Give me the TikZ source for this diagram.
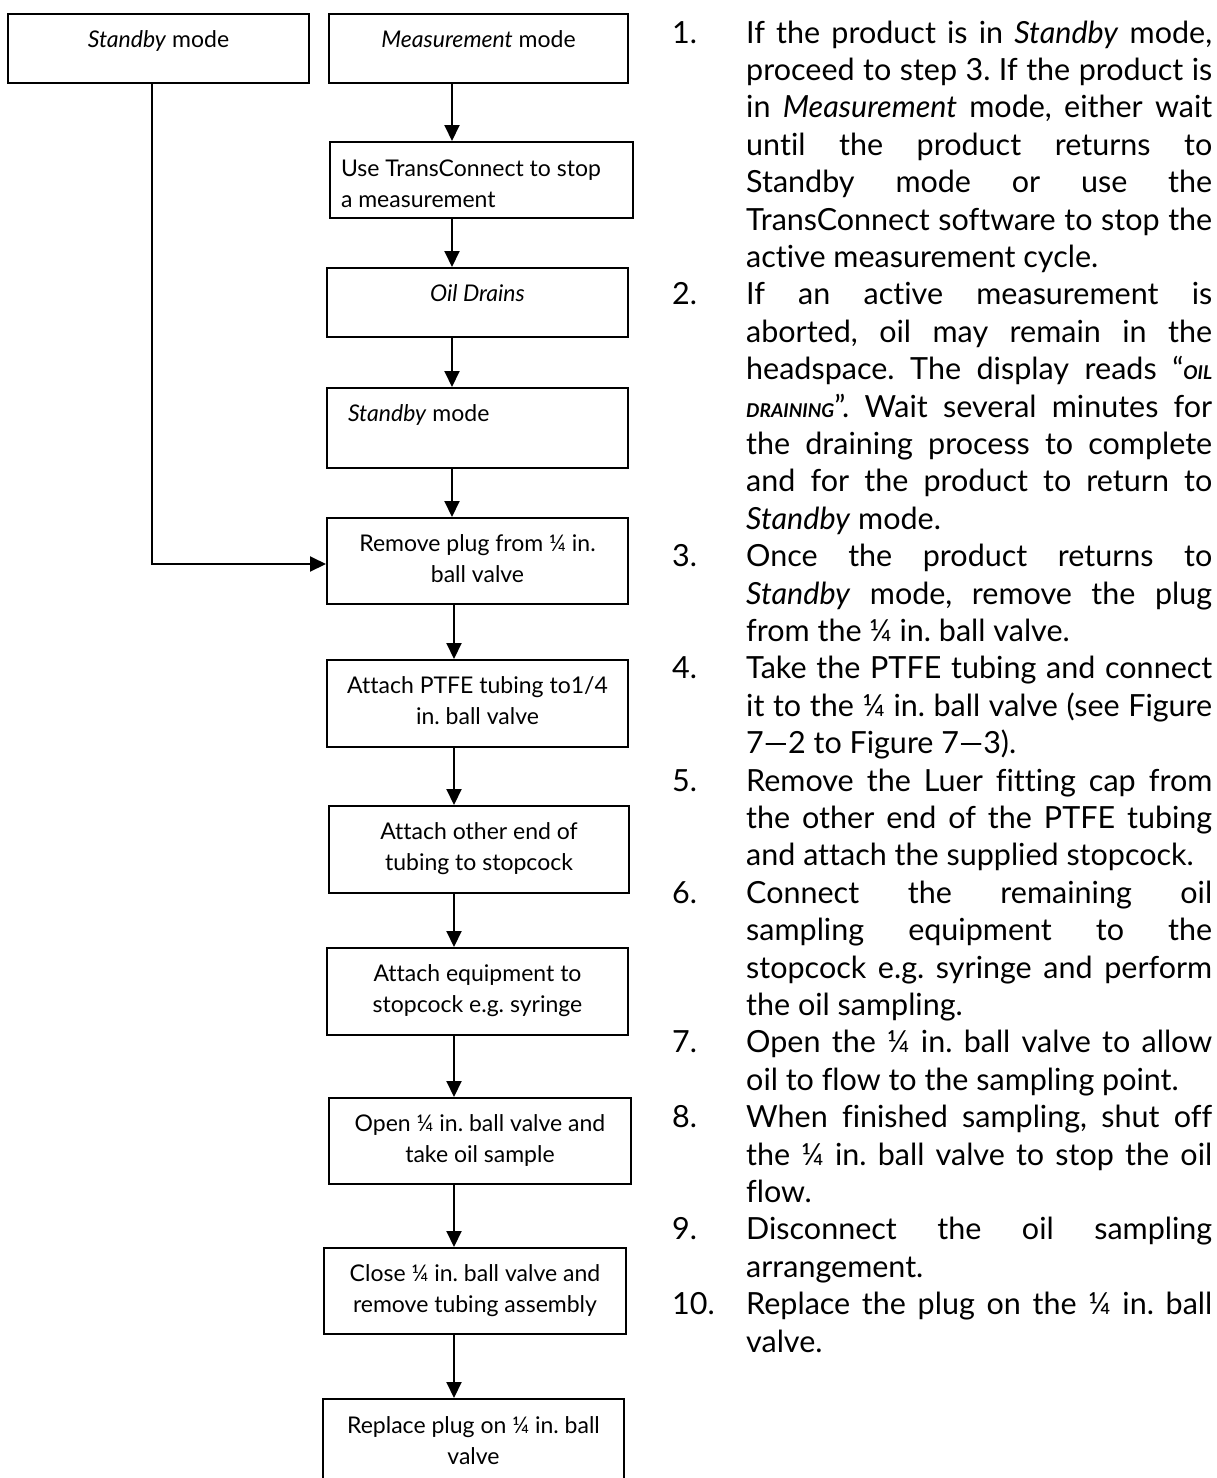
\documentclass[tikz,border=0pt]{standalone}
\usepackage{fontspec}
\setmainfont{Lato}[Ligatures=NoCommon]
\usetikzlibrary{arrows.meta}
\frenchspacing
\newcommand\bx[5]{\parbox[c][#2pt][t]{#1pt}{#4\fontsize{23}{31.5}\selectfont\rule{0pt}{#3pt}#5}}
\newcommand\jl[1]{\makebox[466pt][s]{#1}}
\newcommand\smallit[1]{{\fontsize{19}{20}\selectfont\itshape\bfseries #1}}
\newcommand\itemfont{\fontsize{30.5}{37.4}\selectfont\frenchspacing}
\begin{document}
\begin{tikzpicture}[x=1pt,y=-1pt,
  flowbox/.style={draw, line width=2pt, inner sep=0pt, anchor=north west},
  arr/.style={line width=2pt, -{Triangle[length=16pt,width=15pt]}},
  numtxt/.style={anchor=base west, inner sep=0pt, font=\itemfont},
  itemtxt/.style={anchor=base west, inner sep=0pt, font=\itemfont}]
\useasboundingbox (0,0) rectangle (1216,1478);
\fill[white] (0,0) rectangle (1216,1478);

% flowchart boxes
\node[flowbox] (sb1) at (7,13) {\bx{301}{69}{33}{\centering}{\emph{Standby} mode}};
\node[flowbox] (meas) at (328,13) {\bx{299}{69}{33}{\centering}{\emph{Measurement} mode}};
\node[flowbox] (tc) at (329,141) {\bx{303}{76}{34}{\raggedright}{\hspace*{11pt}Use TransConnect to stop\\\hspace*{11pt}a measurement}};
\node[flowbox] (oil) at (326,267) {\bx{301}{69}{33}{\centering}{\emph{Oil Drains}}};
\node[flowbox] (sb2) at (326,387) {\bx{301}{80}{33}{\raggedright}{\hspace*{21pt}\emph{Standby} mode}};
\node[flowbox] (rm) at (326,517) {\bx{301}{86}{33}{\centering}{Remove plug from ¼ in.\\ball valve}};
\node[flowbox] (ptfe) at (326,659) {\bx{301}{87}{33}{\centering}{Attach PTFE tubing to1/4\\in. ball valve}};
\node[flowbox] (oth) at (328,805) {\bx{300}{87}{33}{\centering}{Attach other end of\\tubing to stopcock}};
\node[flowbox] (eq) at (326,947) {\bx{301}{87}{33}{\centering}{Attach equipment to\\stopcock e.g. syringe}};
\node[flowbox] (op) at (328,1097) {\bx{302}{86}{33}{\centering}{Open ¼ in. ball valve and\\take oil sample}};
\node[flowbox] (cl) at (323,1247) {\bx{302}{86}{33}{\centering}{Close ¼ in. ball valve and\\remove tubing assembly}};
\node[flowbox] (rp) at (322,1398) {\bx{301}{92}{34}{\centering}{Replace plug on ¼ in. ball\\valve}};

% connectors
\coordinate (ax) at (452,0);
\coordinate (bx) at (454,0);
\coordinate (lx) at (152,0);
\draw[arr] (meas.south -| ax) -- (tc.north -| ax);
\draw[arr] (tc.south -| ax) -- (oil.north -| ax);
\draw[arr] (oil.south -| ax) -- (sb2.north -| ax);
\draw[arr] (sb2.south -| ax) -- (rm.north -| ax);
\draw[arr] (rm.south -| bx) -- (ptfe.north -| bx);
\draw[arr] (ptfe.south -| bx) -- (oth.north -| bx);
\draw[arr] (oth.south -| bx) -- (eq.north -| bx);
\draw[arr] (eq.south -| bx) -- (op.north -| bx);
\draw[arr] (op.south -| bx) -- (cl.north -| bx);
\draw[arr] (cl.south -| bx) -- (rp.north -| bx);
\draw[arr] (sb1.south -| lx) |- ([yshift=-3pt]rm.west);

% numbered instructions
\node[numtxt] (n1) at (672,43) {1.};
\node[itemtxt] (i1) at (746,43) {\parbox[t]{466pt}{\itemfont
\jl{If the product is in \emph{Standby} mode,}\\
\jl{proceed to step 3. If the product is}\\
\jl{in \emph{Measurement} mode, either wait}\\
\jl{until the product returns to}\\
\jl{Standby mode or use the}\\
\jl{TransConnect software to stop the}\\
active measurement cycle.}};

\node[numtxt] (n2) at (672,304.8) {2.};
\node[itemtxt] (i2) at (746,304.8) {\parbox[t]{466pt}{\itemfont
\jl{If an active measurement is}\\
\jl{aborted, oil may remain in the}\\
\jl{headspace. The display reads “\smallit{OIL}}\\
\jl{\smallit{DRAINING}”. Wait several minutes for}\\
\jl{the draining process to complete}\\
\jl{and for the product to return to}\\
\emph{Standby} mode.}};

\node[numtxt] (n3) at (672,566.6) {3.};
\node[itemtxt] (i3) at (746,566.6) {\parbox[t]{466pt}{\itemfont
\jl{Once the product returns to}\\
\jl{\emph{Standby} mode, remove the plug}\\
from the ¼ in. ball valve.}};

\node[numtxt] (n4) at (672,678.8) {4.};
\node[itemtxt] (i4) at (746,678.8) {\parbox[t]{466pt}{\itemfont
\jl{Take the PTFE tubing and connect}\\
\jl{it to the ¼ in. ball valve (see Figure}\\
7—2 to Figure 7—3).}};

\node[numtxt] (n5) at (672,791) {5.};
\node[itemtxt] (i5) at (746,791) {\parbox[t]{466pt}{\itemfont
\jl{Remove the Luer fitting cap from}\\
\jl{the other end of the PTFE tubing}\\
and attach the supplied stopcock.}};

\node[numtxt] (n6) at (672,903.2) {6.};
\node[itemtxt] (i6) at (746,903.2) {\parbox[t]{466pt}{\itemfont
\jl{Connect the remaining oil}\\
\jl{sampling equipment to the}\\
\jl{stopcock e.g. syringe and perform}\\
the oil sampling.}};

\node[numtxt] (n7) at (672,1052.8) {7.};
\node[itemtxt] (i7) at (746,1052.8) {\parbox[t]{466pt}{\itemfont
\jl{Open the ¼ in. ball valve to allow}\\
oil to flow to the sampling point.}};

\node[numtxt] (n8) at (672,1127.6) {8.};
\node[itemtxt] (i8) at (746,1127.6) {\parbox[t]{466pt}{\itemfont
\jl{When finished sampling, shut off}\\
\jl{the ¼ in. ball valve to stop the oil}\\
flow.}};

\node[numtxt] (n9) at (672,1239.8) {9.};
\node[itemtxt] (i9) at (746,1239.8) {\parbox[t]{466pt}{\itemfont
\jl{Disconnect the oil sampling}\\
arrangement.}};

\node[numtxt] (n10) at (672,1314.6) {10.};
\node[itemtxt] (i10) at (746,1314.6) {\parbox[t]{466pt}{\itemfont
\jl{Replace the plug on the ¼ in. ball}\\
valve.}};
\end{tikzpicture}
\end{document}
